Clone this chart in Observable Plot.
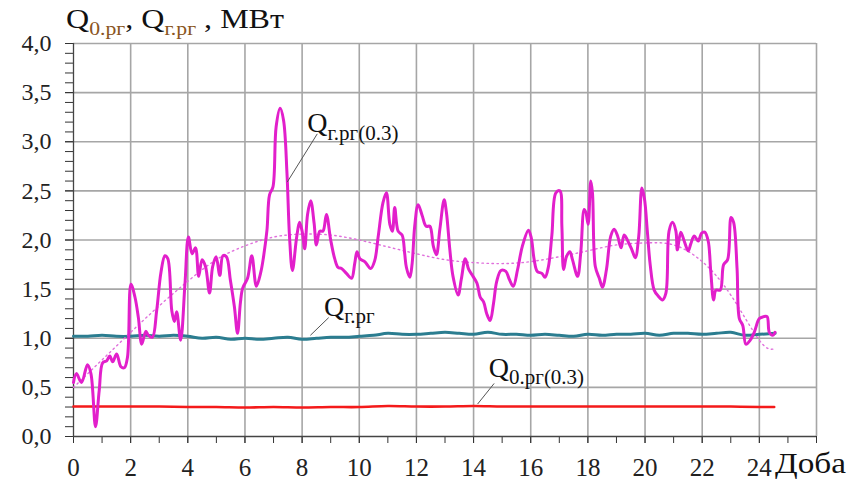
<!DOCTYPE html>
<html>
<head>
<meta charset="utf-8">
<script src="https://cdn.jsdelivr.net/npm/d3@7"></script>
<script src="https://cdn.jsdelivr.net/npm/@observablehq/plot@0.6"></script>
<style>
  html, body { margin: 0; padding: 0; background: #fff; }
  #chart { position: relative; width: 851px; height: 484px; }
</style>
</head>
<body>
<div id="chart"></div>
<script>
// ---- Data ----
// Q г.рг(0.3) (magenta, noisy)
const magHours = [0.0,0.1,0.28,0.49,0.61,0.77,0.9,1.02,1.16,1.27,1.37,1.51,1.66,1.78,1.89,2.01,2.15,2.27,2.39,2.53,2.62,2.76,2.91,3.06,3.2,3.3,3.44,3.53,3.61,3.75,3.9,4.02,4.15,4.27,4.38,4.5,4.62,4.76,4.87,4.99,5.12,5.23,5.35,5.49,5.63,5.74,5.84,5.92,6.09,6.24,6.4,6.56,6.65,6.77,6.86,6.98,7.09,7.23,7.35,7.47,7.56,7.66,7.81,7.91,8.0,8.09,8.19,8.3,8.42,8.5,8.62,8.73,8.85,9.0,9.14,9.26,9.38,9.55,9.73,9.84,9.92,10.02,10.19,10.4,10.54,10.66,10.83,10.95,11.07,11.16,11.24,11.36,11.5,11.59,11.65,11.77,11.85,11.94,12.06,12.2,12.34,12.47,12.59,12.7,12.82,12.97,13.05,13.17,13.28,13.46,13.57,13.71,13.83,13.98,14.12,14.23,14.35,14.46,14.58,14.7,14.81,14.96,15.13,15.25,15.39,15.54,15.71,15.92,16.02,16.12,16.23,16.39,16.5,16.62,16.74,16.88,17.02,17.09,17.15,17.25,17.37,17.46,17.64,17.75,17.87,17.93,18.01,18.1,18.16,18.26,18.4,18.51,18.65,18.8,18.92,19.04,19.16,19.27,19.43,19.54,19.66,19.78,19.89,19.98,20.08,20.18,20.32,20.46,20.61,20.73,20.84,20.96,21.08,21.13,21.25,21.37,21.51,21.6,21.72,21.86,21.98,22.09,22.21,22.3,22.4,22.48,22.63,22.75,22.89,23.01,23.1,23.22,23.3,23.42,23.53,23.68,23.82,24.0,24.15,24.27,24.35,24.47,24.55];
const magValues = [0.55,0.64,0.55,0.73,0.64,0.10,0.47,0.75,0.77,0.82,0.76,0.84,0.71,0.70,0.81,1.55,1.42,1.21,0.94,1.07,1.03,1.01,1.28,1.67,1.84,1.81,1.28,1.17,1.27,0.98,1.55,2.03,1.86,1.92,1.63,1.80,1.73,1.46,1.73,1.83,1.64,1.84,1.83,1.59,1.32,1.05,1.36,1.51,1.61,1.84,1.53,1.68,1.83,2.10,2.46,2.54,3.15,3.34,3.22,2.68,2.03,1.69,2.03,2.18,2.09,1.91,2.26,2.40,2.17,1.95,2.09,2.09,2.26,2.00,1.81,1.72,1.71,1.66,1.61,1.76,1.88,1.81,1.78,1.71,1.79,2.03,2.38,2.48,2.16,2.09,2.33,2.09,2.05,1.86,1.72,1.62,1.76,2.14,2.36,2.25,2.14,2.14,1.94,1.85,2.11,2.41,2.28,1.90,1.63,1.44,1.60,1.81,1.70,1.63,1.56,1.42,1.37,1.25,1.18,1.36,1.58,1.69,1.68,1.60,1.53,1.70,1.94,2.10,2.02,1.80,1.68,1.66,1.62,1.73,2.05,2.48,2.50,2.14,1.70,1.83,1.88,1.80,1.63,1.87,2.31,2.28,2.16,2.60,2.48,1.73,1.61,1.52,1.70,2.04,2.11,2.04,1.92,2.05,1.97,1.90,1.82,2.04,2.53,2.42,2.09,1.75,1.49,1.43,1.39,1.46,2.09,2.18,2.09,1.90,2.08,1.99,1.89,1.96,2.04,1.99,2.07,2.08,1.99,1.68,1.39,1.49,1.49,1.75,1.80,2.23,2.18,1.71,1.20,1.13,0.94,0.98,1.06,1.20,1.22,1.22,1.06,1.03,1.06];

// Trend of Q г.рг(0.3) (magenta dotted)
const trendHours = [0,1,2,3,4,5,6,7,8,9,10,11,12,13,14,15,16,17,18,19,20,21,22,23,24,24.5];
const trendValues = [0.50,0.78,1.06,1.33,1.58,1.80,1.94,2.03,2.06,2.05,2.00,1.93,1.86,1.80,1.77,1.76,1.78,1.83,1.89,1.95,1.97,1.95,1.78,1.44,0.98,0.89];

// Q г.рг (teal)
const tealHours = [0,0.5,1,1.5,2,2.5,3,3.5,4,4.5,5,5.5,6,6.5,7,7.5,8,8.5,9,9.5,10,10.5,11,11.5,12,12.5,13,13.5,14,14.5,15,15.5,16,16.5,17,17.5,18,18.5,19,19.5,20,20.5,21,21.5,22,22.5,23,23.5,24,24.55];
const tealValues = [1.02,1.02,1.03,1.02,1.02,1.03,1.02,1.03,1.02,1.00,1.01,0.99,1.00,0.99,1.00,1.01,0.99,1.00,1.01,1.01,1.02,1.03,1.05,1.04,1.04,1.05,1.06,1.05,1.04,1.06,1.04,1.04,1.03,1.04,1.03,1.02,1.04,1.03,1.04,1.04,1.05,1.03,1.05,1.05,1.04,1.05,1.06,1.03,1.04,1.05];

// Q 0.рг(0.3) (red)
const redHours = [0,1,2,3,4,5,6,7,8,9,10,11,12,13,14,15,16,17,18,19,20,21,22,23,24,24.52];
const redValues = [0.305,0.305,0.305,0.305,0.300,0.300,0.295,0.300,0.295,0.300,0.300,0.310,0.305,0.305,0.310,0.305,0.305,0.305,0.305,0.305,0.305,0.305,0.305,0.305,0.300,0.300];

// Axis ticks
const xLabelTicks = [0,2,4,6,8,10,12,14,16,18,20,22,24];
const xGridTicks = [2,4,6,8,10,12,14,16,18,20,22,24,26];
const xMinorTicks = d3.range(0, 27);
const yLabelTicks = [0,0.5,1,1.5,2,2.5,3,3.5,4];
const yMinorTicks = d3.range(0, 41).map(i => i / 10);

// Annotations: label main, subscript, anchor hour, anchor value
const labelMain = ["Q", "Q", "Q"];
const labelSub = ["г.рг(0.3)", "г.рг", "0.рг(0.3)"];
const labelHour = [8.2, 8.78, 14.55];
const labelValue = [3.09, 1.22, 0.60];
// Leader lines
const leadFromHour = [8.53, 8.93, 14.72];
const leadFromValue = [3.08, 1.21, 0.54];
const leadToHour = [7.48, 8.29, 14.14];
const leadToValue = [2.59, 1.03, 0.33];

// ---- Build ----
const rows = (hs, vs) => hs.map((h, i) => ({x: h, y: vs[i]}));
const mag = rows(magHours, magValues);
const trend = rows(trendHours, trendValues);
const teal = rows(tealHours, tealValues);
const red = rows(redHours, redValues);
const leaders = leadFromHour.map((h, i) => ({x1: h, y1: leadFromValue[i], x2: leadToHour[i], y2: leadToValue[i]}));

const W = 851, H = 484, mL = 73, mR = 35, mT = 43, mB = 48;
const FONT = "Liberation Serif";
const fmt = d => d.toFixed(1).replace(".", ",");

const plot = Plot.plot({
  width: W, height: H,
  marginLeft: mL, marginRight: mR, marginTop: mT, marginBottom: mB,
  style: {background: "#fff", color: "#222"},
  x: {domain: [0, 26]},
  y: {domain: [0, 4]},
  marks: [
    Plot.gridX(xGridTicks, {stroke: "#a6a6a6", strokeOpacity: 1, strokeWidth: 1.6}),
    Plot.gridY(yLabelTicks.filter(d => d > 0), {stroke: "#a6a6a6", strokeOpacity: 1, strokeWidth: 1.6}),
    Plot.axisX(xMinorTicks, {tickSize: 7, tickFormat: () => "", stroke: "#333", label: null}),
    Plot.axisX(xLabelTicks, {tickSize: 7, tickPadding: 15, tickFormat: d => String(d), fontSize: 25, fontFamily: FONT, fill: "#222", stroke: "#333", label: null}),
    Plot.axisY(yMinorTicks, {tickSize: 8, tickFormat: () => "", stroke: "#333", label: null}),
    Plot.axisY(yLabelTicks, {tickSize: 8, tickPadding: 14, tickFormat: fmt, fontSize: 24, fontFamily: FONT, fill: "#222", stroke: "#333", label: null}),
    Plot.ruleX([0], {stroke: "#444", strokeWidth: 1.3}),
    Plot.ruleY([0], {stroke: "#444", strokeWidth: 1.3}),
    Plot.line(red, {x: "x", y: "y", stroke: "#f41a1a", strokeWidth: 2.6, curve: "catmull-rom"}),
    Plot.line(teal, {x: "x", y: "y", stroke: "#2b7d90", strokeWidth: 3, curve: "catmull-rom"}),
    Plot.line(trend, {x: "x", y: "y", stroke: "#e070dc", strokeWidth: 1.4, strokeDasharray: "1.5,3.5", curve: "natural"}),
    Plot.line(mag, {x: "x", y: "y", stroke: "#e21fcb", strokeWidth: 3, curve: "catmull-rom"}),
    Plot.link(leaders, {x1: "x1", y1: "y1", x2: "x2", y2: "y2", stroke: "#555", strokeWidth: 1})
  ]
});

document.getElementById("chart").appendChild(plot);

const svg = d3.select(plot);
const xs = d3.scaleLinear([0, 26], [mL, W - mR]);
const ys = d3.scaleLinear([0, 4], [H - mB, mT]);

function richText(x, y, parts, size, subSize, color) {
  const t = svg.append("text")
    .attr("x", x).attr("y", y)
    .attr("text-anchor", "start")
    .attr("font-size", size)
    .attr("fill", color);
  let shifted = false;
  for (const p of parts) {
    const ts = t.append("tspan").text(p.t);
    if (p.sub && !shifted) { ts.attr("dy", size * 0.26); shifted = true; }
    if (!p.sub && shifted) { ts.attr("dy", -size * 0.26); shifted = false; }
    if (p.sub) ts.attr("font-size", subSize);
    if (p.fill) ts.attr("fill", p.fill);
  }
  return t;
}

// Series annotations
labelMain.forEach((m, i) => {
  richText(xs(labelHour[i]), ys(labelValue[i]), [{t: m}, {t: labelSub[i], sub: true}], 28, 21, "#111");
});

// Title (y-axis caption)
const subCol = "#8a5522";
richText(66, 28, [
  {t: "Q"}, {t: "0.рг", sub: true, fill: subCol}, {t: ", Q"}, {t: "г.рг", sub: true, fill: subCol}, {t: " , МВт"}
], 28, 19, "#111").attr("textLength", 218).attr("lengthAdjust", "spacingAndGlyphs");

// x-axis caption
svg.append("text")
  .attr("x", 775).attr("y", 473)
  .attr("text-anchor", "start")
  .attr("font-size", 29).attr("fill", "#111")
  .attr("textLength", 71).attr("lengthAdjust", "spacingAndGlyphs")
  .text("Доба");

// serif font everywhere
svg.attr("font-family", FONT).style("font-family", FONT);
svg.selectAll("text").attr("font-family", FONT).style("font-family", FONT);
</script>
</body>
</html>
